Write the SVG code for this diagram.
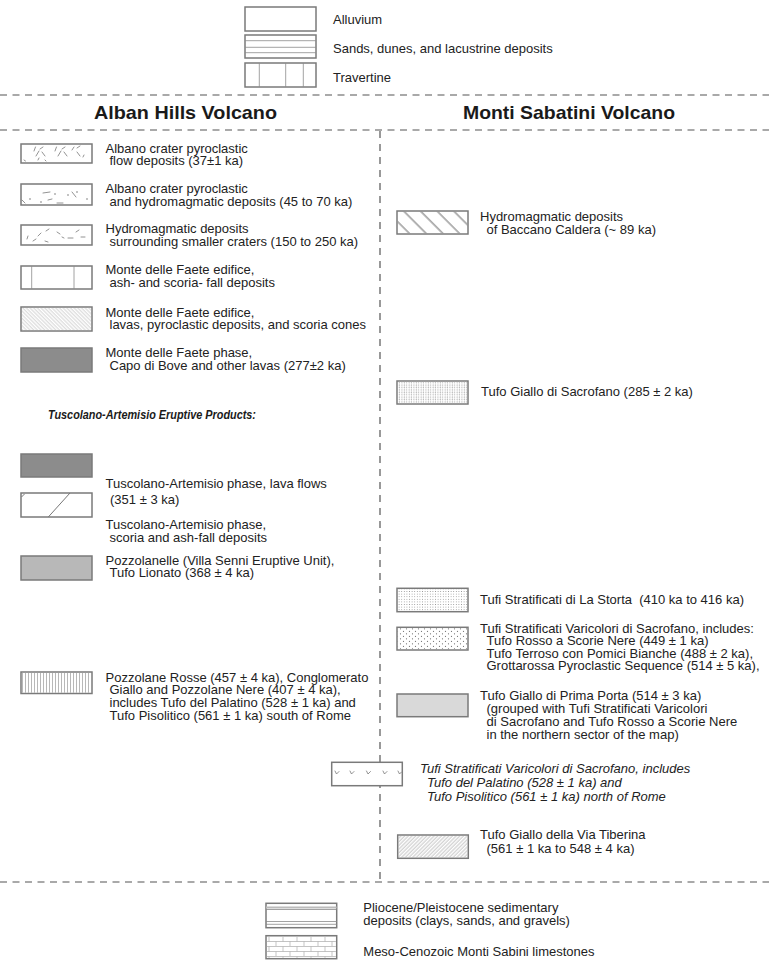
<svg xmlns="http://www.w3.org/2000/svg" width="769" height="960" viewBox="0 0 769 960">
<style>
.t{font-family:"Liberation Sans",Arial,Helvetica,sans-serif;font-size:13px;fill:#222}
.ti{font-family:"Liberation Sans",Arial,Helvetica,sans-serif;font-size:13px;font-style:italic;fill:#222}
.h{font-family:"Liberation Sans",Arial,Helvetica,sans-serif;font-size:18.5px;font-weight:bold;fill:#1a1a1a}
.hs{font-family:"Liberation Sans",Arial,Helvetica,sans-serif;font-size:12px;font-weight:bold;font-style:italic;fill:#1a1a1a}
.box{stroke:#7a7a7a;stroke-width:1.5;fill:#fff}
.in{stroke:#8a8a8a;stroke-width:0.8;fill:none}
.mk{stroke:#777;stroke-width:0.8;fill:none;stroke-linecap:round}
.dash{stroke:#555;stroke-width:1.2;stroke-dasharray:7 5.5;fill:none}
.vdash{stroke:#555;stroke-width:1.2;stroke-dasharray:7 6;fill:none}
</style>
<defs>
<pattern id="hatchFine" patternUnits="userSpaceOnUse" width="2.6" height="6" patternTransform="rotate(-45)"><line x1="1" y1="0" x2="1" y2="6" stroke="#b0b0b0" stroke-width="0.6"/></pattern>
<pattern id="hatchFwd" patternUnits="userSpaceOnUse" width="2.6" height="6" patternTransform="rotate(45)"><line x1="1" y1="0" x2="1" y2="6" stroke="#999" stroke-width="0.6"/></pattern>
<pattern id="hatchWide" patternUnits="userSpaceOnUse" width="11.8" height="20" patternTransform="translate(398 211) rotate(-45)"><line x1="4" y1="0" x2="4" y2="20" stroke="#666" stroke-width="1"/></pattern>
<pattern id="vlines" patternUnits="userSpaceOnUse" width="3" height="10"><line x1="1.5" y1="0" x2="1.5" y2="10" stroke="#999" stroke-width="0.7"/></pattern>
<pattern id="dotsFine" patternUnits="userSpaceOnUse" width="2.6" height="2.6"><circle cx="1.3" cy="1.3" r="0.5" fill="#888"/></pattern>
<pattern id="gridFine" patternUnits="userSpaceOnUse" width="2.4" height="2.4"><rect x="0.6" y="0.6" width="1" height="1" fill="#999"/><rect x="0.9" y="0" width="0.4" height="2.4" fill="#ccc"/></pattern>
<pattern id="dotsCoarse" patternUnits="userSpaceOnUse" width="6" height="5"><circle cx="1.5" cy="1.3" r="0.6" fill="#666"/><circle cx="4.5" cy="3.8" r="0.6" fill="#666"/></pattern>
<pattern id="brick" patternUnits="userSpaceOnUse" x="266" y="936" width="14" height="10"><line x1="0" y1="0.5" x2="14" y2="0.5" stroke="#aaa" stroke-width="0.7"/><line x1="0" y1="5.5" x2="14" y2="5.5" stroke="#aaa" stroke-width="0.7"/><line x1="3" y1="0.5" x2="3" y2="5.5" stroke="#aaa" stroke-width="0.7"/><line x1="10" y1="5.5" x2="10" y2="10.5" stroke="#aaa" stroke-width="0.7"/></pattern>
</defs>

<g id="connectors">
<line class="dash" x1="0" y1="95" x2="769" y2="95"/>
<line class="dash" x1="0" y1="130" x2="769" y2="130"/>
<line class="vdash" x1="380" y1="131" x2="380" y2="882"/>
<line class="dash" x1="0" y1="882" x2="769" y2="882"/>
</g>

<g id="legend-top">
<g id="alluvium"><rect class="box" x="245" y="7" width="71" height="24"/><text class="t" x="333" y="23.5">Alluvium</text></g>
<g id="sands"><rect class="box" x="245" y="35" width="71" height="23"/><line class="in" x1="245" y1="40.7" x2="316" y2="40.7"/><line class="in" x1="245" y1="47.3" x2="316" y2="47.3"/><line class="in" x1="245" y1="52.7" x2="316" y2="52.7"/><text class="t" x="333" y="53">Sands, dunes, and lacustrine deposits</text></g>
<g id="travertine"><rect class="box" x="245" y="63" width="71" height="24"/><line class="in" x1="259.3" y1="63" x2="259.3" y2="87"/><line class="in" x1="285.7" y1="63" x2="285.7" y2="87"/><line class="in" x1="303.3" y1="63" x2="303.3" y2="87"/><text class="t" x="333" y="82">Travertine</text></g>
</g>

<g id="headings">
<text class="h" x="94" y="119.3" textLength="183" lengthAdjust="spacingAndGlyphs">Alban Hills Volcano</text>
<text class="h" x="463" y="119.3" textLength="212" lengthAdjust="spacingAndGlyphs">Monti Sabatini Volcano</text>
</g>

<g id="albano-flow">
<rect class="box" x="21" y="144" width="71" height="19"/>
<path class="mk" d="M34 151 l1.5 -4 M36 156 l3 -5 M40 149 l3 -2 M42 152 l3 4 M38 160 l1 -2 M24 160 l1.5 1 M55 151 l1.5 -4 M58 156 l3 -5 M62 149 l3 -2 M64 152 l3 4 M72 150 l2 -3 M77 148 l3 -2 M77 152 l3 4 M83 157 l1 -2 M45 160 l1 1"/>
<text class="t" x="105.5" y="152.5">Albano crater pyroclastic</text>
<text class="t" x="109.5" y="165.2">flow deposits (37±1 ka)</text>
</g>

<g id="albano-hydro">
<rect class="box" x="21" y="184" width="71" height="21"/>
<path class="mk" d="M43 193 l7 -1 M57 203 l6 0 M72 192 l4 5 M22 200 l3 3 M48 200 l4 -1"/>
<g fill="#777"><circle cx="30" cy="199" r="0.8"/><circle cx="41" cy="202" r="0.8"/><circle cx="55" cy="194" r="0.8"/><circle cx="68" cy="195" r="0.8"/><circle cx="77" cy="192" r="0.8"/><circle cx="87" cy="199" r="0.8"/></g>
<text class="t" x="105.5" y="193.3">Albano crater pyroclastic</text>
<text class="t" x="109.5" y="206">and hydromagmatic deposits (45 to 70 ka)</text>
</g>

<g id="hydromagmatic-craters">
<rect class="box" x="21" y="225" width="71" height="20"/>
<path class="mk" d="M27 239 l1 -3 M38 236 l3 -3 M46 231 l3 -2 M57 232 l3 2 M62 237 l2 1 M68 238 l5 0 M76 232 l3 -2 M81 237 l4 0 M45 241 l3 1 M33 241 l3 -2"/>
<text class="t" x="105.5" y="233.3">Hydromagmatic deposits</text>
<text class="t" x="109.5" y="246">surrounding smaller craters (150 to 250 ka)</text>
</g>

<g id="faete-ash">
<rect class="box" x="21" y="266" width="71" height="23"/>
<line class="in" x1="31.7" y1="266" x2="31.7" y2="289"/><line class="in" x1="74" y1="266" x2="74" y2="289"/>
<text class="t" x="105.5" y="274.3">Monte delle Faete edifice,</text>
<text class="t" x="109.5" y="286.7">ash- and scoria- fall deposits</text>
</g>

<g id="faete-lavas">
<rect class="box" x="21" y="307" width="71" height="24"/>
<rect x="21.8" y="307.8" width="69.4" height="22.4" fill="url(#hatchFine)"/>
<text class="t" x="105.5" y="316.7">Monte delle Faete edifice,</text>
<text class="t" x="109.5" y="329.3">lavas, pyroclastic deposits, and scoria cones</text>
</g>

<g id="faete-phase">
<rect class="box" x="21" y="348" width="71" height="24" style="fill:#8c8c8c"/>
<text class="t" x="105.5" y="357.3">Monte delle Faete phase,</text>
<text class="t" x="109.5" y="370">Capo di Bove and other lavas (277±2 ka)</text>
</g>

<text id="tuscolano-heading" class="hs" x="48" y="419.3" textLength="208" lengthAdjust="spacingAndGlyphs">Tuscolano-Artemisio Eruptive Products:</text>

<g id="tuscolano-lava">
<rect class="box" x="21" y="454" width="71" height="23" style="fill:#8c8c8c"/>
<text class="t" x="105.5" y="488">Tuscolano-Artemisio phase, lava flows</text>
<text class="t" x="110" y="504.3">(351 ± 3 ka)</text>
</g>

<g id="tuscolano-scoria">
<rect class="box" x="21" y="493" width="71" height="24"/>
<line class="in" x1="48.3" y1="517" x2="70" y2="493" style="stroke:#777;stroke-width:1"/>
<line class="in" x1="21.5" y1="497" x2="24.5" y2="494" style="stroke:#777;stroke-width:1"/>
<text class="t" x="105.5" y="529.3">Tuscolano-Artemisio phase,</text>
<text class="t" x="109.5" y="541.8">scoria and ash-fall deposits</text>
</g>

<g id="pozzolanelle">
<rect class="box" x="21" y="556" width="71" height="24" style="fill:#b8b8b8"/>
<text class="t" x="105.5" y="564.5">Pozzolanelle (Villa Senni Eruptive Unit),</text>
<text class="t" x="109.5" y="577">Tufo Lionato (368 ± 4 ka)</text>
</g>

<g id="pozzolane-rosse">
<rect class="box" x="21" y="672" width="71" height="21.5"/>
<rect x="21.8" y="672.8" width="69.4" height="19.9" fill="url(#vlines)"/>
<text class="t" x="105.5" y="681.5">Pozzolane Rosse (457 ± 4 ka), Conglomerato</text>
<text class="t" x="109.5" y="694.3">Giallo and Pozzolane Nere (407 ± 4 ka),</text>
<text class="t" x="109.5" y="707.2">includes Tufo del Palatino (528 ± 1 ka) and</text>
<text class="t" x="109.5" y="720">Tufo Pisolitico (561 ± 1 ka) south of Rome</text>
</g>

<g id="baccano">
<rect class="box" x="397" y="211" width="71" height="23"/>
<rect x="397.8" y="211.8" width="69.4" height="21.4" fill="url(#hatchWide)"/>
<text class="t" x="480" y="221">Hydromagmatic deposits</text>
<text class="t" x="486.5" y="233.5">of Baccano Caldera (~ 89 ka)</text>
</g>

<g id="giallo-sacrofano">
<rect class="box" x="397" y="381" width="71" height="23"/>
<rect x="397.8" y="381.8" width="69.4" height="21.4" fill="url(#gridFine)"/>
<text class="t" x="481" y="395.5">Tufo Giallo di Sacrofano (285 ± 2 ka)</text>
</g>

<g id="la-storta">
<rect class="box" x="397" y="588.3" width="71" height="23.4"/>
<rect x="397.8" y="589.1" width="69.4" height="21.8" fill="url(#dotsFine)"/>
<text class="t" x="480" y="604.3" style="white-space:pre">Tufi Stratificati di La Storta  (410 ka to 416 ka)</text>
</g>

<g id="varicolori">
<rect class="box" x="397" y="627.3" width="71" height="22.7"/>
<rect x="397.8" y="628.1" width="69.4" height="21.1" fill="url(#dotsCoarse)"/>
<text class="t" x="480" y="632.5">Tufi Stratificati Varicolori di Sacrofano, includes:</text>
<text class="t" x="486.5" y="645">Tufo Rosso a Scorie Nere (449 ± 1 ka)</text>
<text class="t" x="486.5" y="657.5">Tufo Terroso con Pomici Bianche (488 ± 2 ka),</text>
<text class="t" x="486.5" y="670">Grottarossa Pyroclastic Sequence (514 ± 5 ka),</text>
</g>

<g id="prima-porta">
<rect class="box" x="397" y="694" width="71" height="22.7" style="fill:#d9d9d9"/>
<text class="t" x="480" y="699.5">Tufo Giallo di Prima Porta (514 ± 3 ka)</text>
<text class="t" x="486.5" y="712.5">(grouped with Tufi Stratificati Varicolori</text>
<text class="t" x="486.5" y="725.5">di Sacrofano and Tufo Rosso a Scorie Nere</text>
<text class="t" x="486.5" y="739">in the northern sector of the map)</text>
</g>

<g id="varicolori-italic">
<rect class="box" x="331.7" y="762.3" width="70.6" height="23.4"/>
<path class="mk" d="M335 771 l1.5 3 l2.5 -2.5 M350 771 l1.5 3 l2.5 -2.5 M366.5 771 l1.5 3 l2.5 -2.5 M383 771 l1.5 3 l2.5 -2.5 M398 771 l1.5 3 l2 -2"/>
<text class="ti" x="420" y="773.3">Tufi Stratificati Varicolori di Sacrofano, includes</text>
<text class="ti" x="427" y="786.7">Tufo del Palatino (528 ± 1 ka) and</text>
<text class="ti" x="427" y="800.5">Tufo Pisolitico (561 ± 1 ka) north of Rome</text>
</g>

<g id="via-tiberina">
<rect class="box" x="397.7" y="835" width="70.6" height="23.3"/>
<rect x="398.5" y="835.8" width="69" height="21.7" fill="url(#hatchFwd)"/>
<text class="t" x="480" y="838.5">Tufo Giallo della Via Tiberina</text>
<text class="t" x="486.5" y="852.5">(561 ± 1 ka to 548 ± 4 ka)</text>
</g>

<g id="legend-bottom">
<g id="pliocene"><rect class="box" x="266" y="903.3" width="70.7" height="24.4"/>
<line class="in" x1="266" y1="907.5" x2="336.7" y2="907.5" style="stroke:#bbb;stroke-width:2"/>
<line class="in" x1="266" y1="909.5" x2="336.7" y2="909.5"/>
<line class="in" x1="266" y1="921.5" x2="336.7" y2="921.5"/>
<line class="in" x1="266" y1="924.3" x2="336.7" y2="924.3"/>
<text class="t" x="363.3" y="912.3">Pliocene/Pleistocene sedimentary</text>
<text class="t" x="363.3" y="925">deposits (clays, sands, and gravels)</text></g>
<g id="limestone"><rect class="box" x="266" y="935.7" width="70.7" height="23"/>
<rect x="266.8" y="936.5" width="69.1" height="21.4" fill="url(#brick)"/>
<text class="t" x="363.3" y="955.7">Meso-Cenozoic Monti Sabini limestones</text></g>
</g>
</svg>
